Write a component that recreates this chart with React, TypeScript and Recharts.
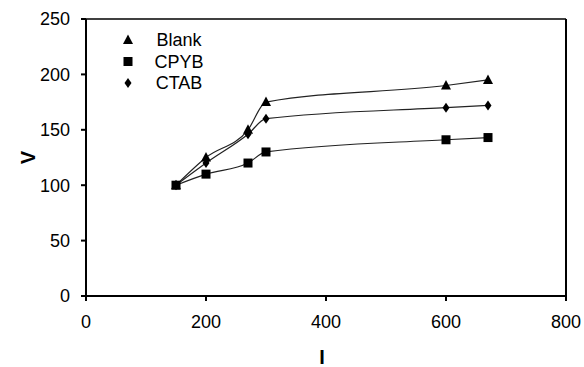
import { LineChart, Line, XAxis, YAxis, ReferenceLine, Legend } from 'recharts'

const concentrations = [150, 200, 270, 300, 600, 670]
const blank = [100, 125, 150, 175, 190, 195]
const cpyb = [100, 110, 120, 130, 141, 143]
const ctab = [100, 120, 146, 160, 170, 172]
const xTicks = [0, 200, 400, 600, 800]
const yTicks = [0, 50, 100, 150, 200, 250]

const FONT = "Arial, 'Liberation Sans', sans-serif"

const data = concentrations.map((c, i) => ({ c, blank: blank[i], cpyb: cpyb[i], ctab: ctab[i] }))

function Marker({ kind, cx, cy }: { kind: string; cx: number; cy: number }) {
  if (kind === 'blank')
    return <path d={`M${cx},${cy - 5.5} L${cx + 5},${cy + 4} L${cx - 5},${cy + 4} Z`} fill="#000" />
  if (kind === 'cpyb') return <rect x={cx - 4.5} y={cy - 4.5} width={9} height={9} fill="#000" />
  return <path d={`M${cx},${cy - 5} L${cx + 3.5},${cy} L${cx},${cy + 5} L${cx - 3.5},${cy} Z`} fill="#000" />
}

const dotFor = (kind: string) => (p: any) =>
  <Marker key={`${kind}-${p.index}`} kind={kind} cx={p.cx} cy={p.cy} />

const labels: Record<string, string> = { blank: 'Blank', cpyb: 'CPYB', ctab: 'CTAB' }

function LegendBox(props: any) {
  const items = props.payload || []
  return (
    <svg width={110} height={66}>
      {items.map((it: any, i: number) => (
        <g key={it.dataKey}>
          <Marker kind={it.dataKey} cx={13} cy={12 + i * 21.5} />
          <text x={64} y={12 + i * 21.5} dy="0.36em" textAnchor="middle" fontFamily={FONT} fontSize={18} fill="#000">
            {labels[it.dataKey]}
          </text>
        </g>
      ))}
    </svg>
  )
}

export default function App() {
  return (
    <div style={{ position: 'absolute', left: 0, top: 0, width: 584, height: 367, background: '#fff' }}>
      <LineChart width={584} height={367} data={data} margin={{ top: 19, right: 18, left: 0, bottom: 0 }}>
        <XAxis
          dataKey="c"
          type="number"
          domain={[0, 800]}
          ticks={xTicks}
          stroke="#000"
          strokeWidth={2}
          tickSize={5}
          tickMargin={14}
          height={71}
          tick={{ fill: '#000', fontSize: 18, fontFamily: FONT }}
          label={({ viewBox }: any) => (
            <text x={viewBox.x + viewBox.width / 2 - 4} y={364} textAnchor="middle" fontFamily={FONT} fontSize={20} fontWeight="bold" fill="#000">
              I
            </text>
          )}
        />
        <YAxis
          type="number"
          domain={[0, 250]}
          ticks={yTicks}
          stroke="#000"
          strokeWidth={2}
          tickSize={5}
          tickMargin={11}
          width={86}
          tick={{ fill: '#000', fontSize: 18, fontFamily: FONT }}
          label={({ viewBox }: any) => (
            <text x={28} y={viewBox.y + viewBox.height / 2} transform={`rotate(-90, 28, ${viewBox.y + viewBox.height / 2})`} dy="0.36em" textAnchor="middle" fontFamily={FONT} fontSize={20} fontWeight="bold" fill="#000">
              V
            </text>
          )}
        />
        <ReferenceLine y={250} stroke="#000" strokeWidth={1.5} />
        <ReferenceLine x={800} stroke="#000" strokeWidth={2} />
        <Legend
          layout="vertical"
          align="center"
          verticalAlign="middle"
          content={<LegendBox />}
          wrapperStyle={{ left: 115, top: 28, width: 110, height: 66 }}
        />
        <Line dataKey="blank" type="monotone" stroke="#222" strokeWidth={1.2} dot={dotFor('blank')} activeDot={false} isAnimationActive={false} />
        <Line dataKey="cpyb" type="monotone" stroke="#222" strokeWidth={1.2} dot={dotFor('cpyb')} activeDot={false} isAnimationActive={false} />
        <Line dataKey="ctab" type="monotone" stroke="#222" strokeWidth={1.2} dot={dotFor('ctab')} activeDot={false} isAnimationActive={false} />
      </LineChart>
    </div>
  )
}
